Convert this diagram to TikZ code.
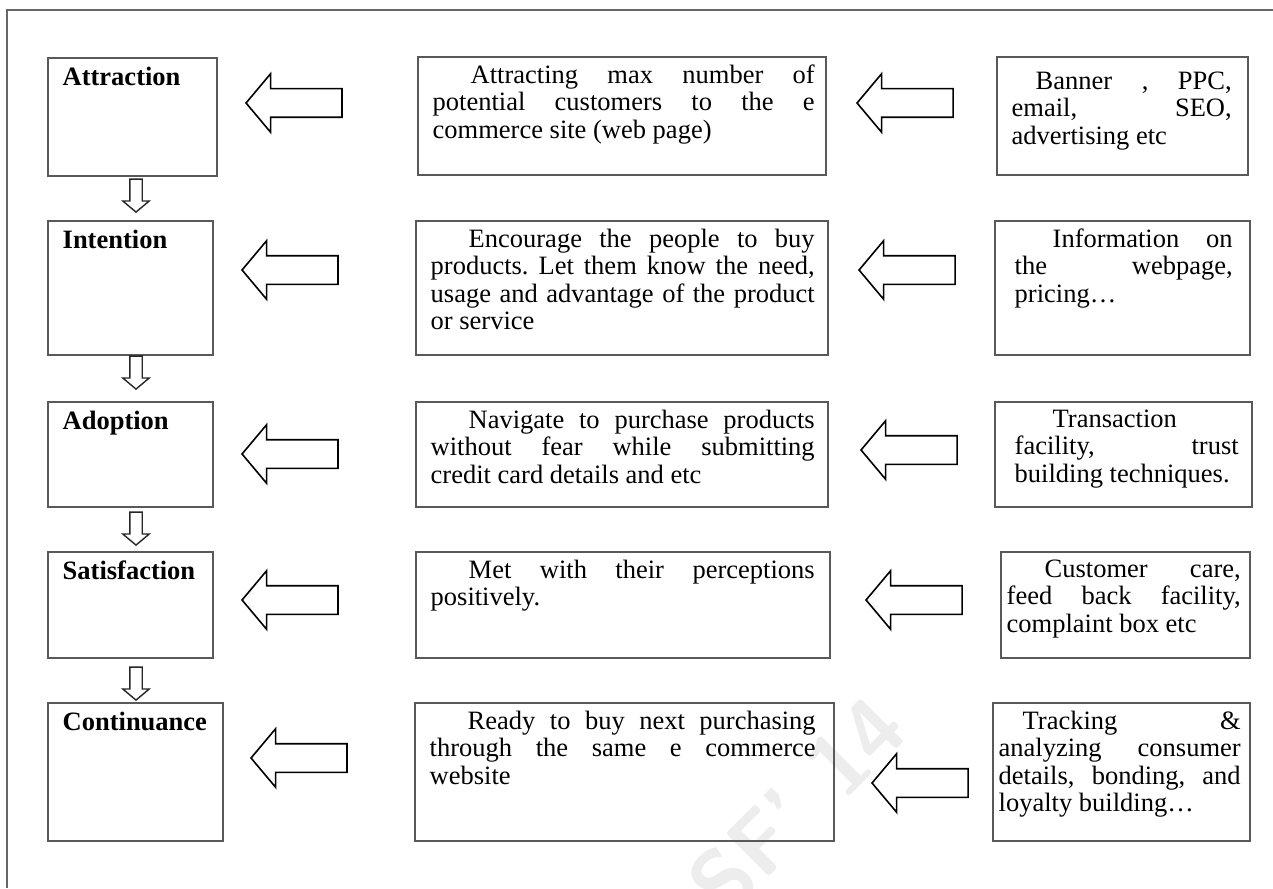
\documentclass[tikz,border=0pt]{standalone}
\usepackage{fontspec}
\setmainfont{Liberation Serif}
\usetikzlibrary{shapes.arrows,fit}
\newcommand\firstIndent{\hspace*{19pt}}

\begin{document}
\begin{tikzpicture}
[x=0.5pt,y=-0.5pt,
  boxDecorate/.style={draw=black!65,line width=0.7pt,inner sep=0pt},
  labelDecorate/.style={anchor=north west,inner xsep=7.5pt,inner ysep=4.5pt,
    font=\bfseries\fontsize{13.25}{14}\selectfont},
  textDecorate/.style={anchor=north west,align=justify,inner xsep=7.5pt,inner ysep=4pt,
    font=\fontsize{13.25}{13.8}\selectfont\frenchspacing},
  arrowDecorate/.style={single arrow,draw=black,line width=0.8pt,fill=white,
    inner xsep=0pt,inner ysep=6.75pt,minimum height=48pt,single arrow head extend=7.5pt,
    single arrow tip angle=100,shape border rotate=180,anchor=tip},
  downArrowDecorate/.style={single arrow,draw=black!85,line width=0.7pt,fill=white,
    inner xsep=2.75pt,inner ysep=0pt,minimum height=16.5pt,single arrow head extend=3.5pt,
    single arrow tip angle=100,shape border rotate=270,anchor=tip},
  markDecorate/.style={rotate=45,text=black!7,font=\sffamily\bfseries\fontsize{44}{44}\selectfont}]
\useasboundingbox (0,0) rectangle (1273,888);
%% watermark
\node[markDecorate] (mark) at (797,806) {SF' 14};
%% frame
\coordinate (framefoot) at (7,888);
\coordinate (frameend) at (1273,10);
\draw[black!60,line width=0.75pt] (framefoot) |- (frameend);
%% stages
\foreach \name/\stage/\xa/\ya/\xb/\yb in {
  attr/Attraction/48/58/217/176,
  inte/Intention/48/221/213/355,
  adop/Adoption/48/402/213/507,
  sati/Satisfaction/48/552/213/658,
  cont/Continuance/48/703/223/841}
{
  \node[boxDecorate,fit={(\xa,\ya) (\xb,\yb)}] (\name) {};
  \node[labelDecorate] (\name label) at (\name.north west) {\stage};
}
%% what happens at each stage
\node[boxDecorate,fit={(418,57) (826,175)}] (attrgoal) {};
\node[textDecorate,text width=191pt] (attrgoaltext) at (attrgoal.north west)
  {\firstIndent Attracting max number of\linebreak potential customers to the e\linebreak commerce site (web page)};
\node[boxDecorate,fit={(416,221) (828,355)}] (integoal) {};
\node[textDecorate,text width=192pt] (integoaltext) at (integoal.north west)
  {\firstIndent Encourage the people to buy\linebreak products. Let them know the need,\linebreak usage and advantage of the product\linebreak or service};
\node[boxDecorate,fit={(416,402) (828,507)}] (adopgoal) {};
\node[textDecorate,text width=192pt] (adopgoaltext) at (adopgoal.north west)
  {\firstIndent Navigate to purchase products\linebreak without fear while submitting\linebreak credit card details and etc};
\node[boxDecorate,fit={(416,552) (830,658)}] (satigoal) {};
\node[textDecorate,text width=192pt] (satigoaltext) at (satigoal.north west)
  {\firstIndent Met with their perceptions\linebreak positively.};
\node[boxDecorate,fit={(415,703) (834,841)}] (contgoal) {};
\node[textDecorate,text width=193pt] (contgoaltext) at (contgoal.north west)
  {\firstIndent Ready to buy next purchasing\linebreak through the same e commerce\linebreak website};
%% tools for each stage
\node[boxDecorate,fit={(997,57) (1248,175)}] (attrtool) {};
\node[textDecorate,text width=110pt,inner ysep=7.5pt] (attrtooltext) at (attrtool.north west)
  {\hspace*{12pt}Banner , PPC,\linebreak email, SEO,\linebreak advertising etc};
\node[boxDecorate,fit={(995,221) (1250,355)}] (intetool) {};
\node[textDecorate,text width=109pt,inner xsep=10pt] (intetooltext) at (intetool.north west)
  {\firstIndent Information on\linebreak the webpage,\linebreak pricing\dots};
\node[boxDecorate,fit={(995,402) (1252,507)}] (adoptool) {};
\node[textDecorate,text width=112pt,inner xsep=10pt] (adoptooltext) at (adoptool.north west)
  {\firstIndent Transaction\linebreak facility, trust\linebreak building techniques.};
\node[boxDecorate,fit={(1001,552) (1250,658)}] (satitool) {};
\node[textDecorate,text width=117pt,inner xsep=3pt] (satitooltext) at (satitool.north west)
  {\firstIndent Customer care,\linebreak feed back facility,\linebreak complaint box etc};
\node[boxDecorate,fit={(993,703) (1250,841)}] (conttool) {};
\node[textDecorate,text width=121pt,inner xsep=3pt] (conttooltext) at (conttool.north west)
  {\hspace*{12pt}Tracking \&\linebreak analyzing consumer\linebreak details, bonding, and\linebreak loyalty building\dots};
%% arrows between the columns
\foreach \name/\xa/\ya/\xb/\yb in {
  attr/245/103/856/103, inte/241/270/858/270, adop/241/454/860/450,
  sati/241/600/865/600, cont/250/758/871/783}
{
  \node[arrowDecorate] (\name arrow) at (\xa,\ya) {};
  \node[arrowDecorate] (\name toolarrow) at (\xb,\yb) {};
}
%% arrows between the stages
\foreach \name/\y in {attr/213, inte/390, adop/546, sati/701}
  \node[downArrowDecorate] (\name next) at (136,\y) {};
\end{tikzpicture}
\end{document}
